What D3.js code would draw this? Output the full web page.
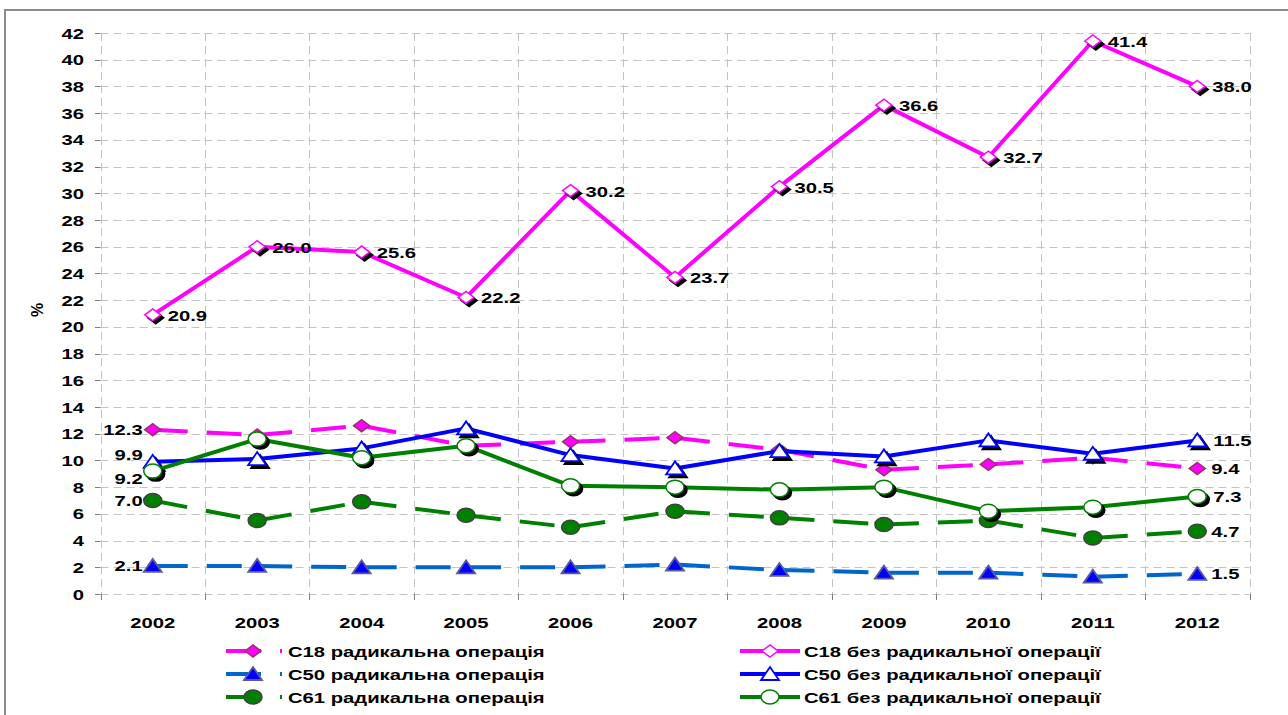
<!DOCTYPE html>
<html><head><meta charset="utf-8">
<script src="https://cdn.jsdelivr.net/npm/d3@7/dist/d3.min.js"></script>
<style>body{margin:0;background:#fff}svg{display:block}text{font-family:"Liberation Sans",Arial,sans-serif;font-weight:bold;fill:#000}</style>
</head><body>
<svg id="c" width="1288" height="715"></svg>
<script>
const years = ["2002","2003","2004","2005","2006","2007","2008","2009","2010","2011","2012"];
const yTicks = [0,2,4,6,8,10,12,14,16,18,20,22,24,26,28,30,32,34,36,38,40,42];
const c18Rad = [12.3, 11.9, 12.6, 11.1, 11.4, 11.7, 10.8, 9.3, 9.7, 10.2, 9.4];
const c18Bez = [20.9, 26.0, 25.6, 22.2, 30.2, 23.7, 30.5, 36.6, 32.7, 41.4, 38.0];
const c50Rad = [2.1, 2.1, 2.0, 2.0, 2.0, 2.2, 1.8, 1.6, 1.6, 1.3, 1.5];
const c50Bez = [9.9, 10.1, 10.9, 12.4, 10.4, 9.4, 10.7, 10.3, 11.5, 10.5, 11.5];
const c61Rad = [7.0, 5.5, 6.9, 5.9, 5.0, 6.2, 5.7, 5.2, 5.5, 4.2, 4.7];
const c61Bez = [9.2, 11.6, 10.2, 11.1, 8.1, 8.0, 7.8, 8.0, 6.2, 6.5, 7.3];
const names = ["С18 радикальна операція","С18 без радикальної операції","С50 радикальна операція","С50 без радикальної операції","С61 радикальна операція","С61 без радикальної операції"];

const SX = 1.35;
const svg = d3.select("#c");
svg.append("rect").attr("x",5).attr("y",10).attr("width",1400).attr("height",800)
  .attr("fill","none").attr("stroke","#8c8c8c").attr("stroke-width",2);

const x = d3.scaleBand().domain(years).range([100.5, 1249.5]);
const cx = d => x(d) + x.bandwidth()/2;
const y = d3.scaleLinear().domain([0,42]).range([594, 33]);

function txt(g, px, py, s, anchor, size){
  return g.append("text").attr("transform",`translate(${px},${py}) scale(${SX},1)`)
    .attr("text-anchor",anchor||"start").attr("font-size",size||15).text(s);
}

// grid
const grid = svg.append("g");
yTicks.forEach(t => {
  grid.append("line").attr("x1",100.5).attr("x2",1249.5).attr("y1",Math.round(y(t))+0.5).attr("y2",Math.round(y(t))+0.5)
    .attr("stroke","#c4c4c4").attr("stroke-dasharray","8,5").attr("stroke-width",1);
  grid.append("line").attr("x1",95).attr("x2",100.5).attr("y1",Math.round(y(t))+0.5).attr("y2",Math.round(y(t))+0.5)
    .attr("stroke","#808080");
});
const bounds = years.map(d => x(d)).concat([x.range()[1]]);
bounds.forEach((b,i) => {
  grid.append("line").attr("x1",Math.round(b)+0.5).attr("x2",Math.round(b)+0.5).attr("y1",33).attr("y2",594)
    .attr("stroke","#c4c4c4").attr("stroke-dasharray","8,5");
  grid.append("line").attr("x1",Math.round(b)+0.5).attr("x2",Math.round(b)+0.5).attr("y1",594).attr("y2",600)
    .attr("stroke","#808080");
});
// axis labels
yTicks.forEach(t => txt(svg, 84, y(t)+5.5, String(t), "end"));
years.forEach(d => txt(svg, cx(d), 628, d, "middle"));
svg.append("text").attr("transform","translate(43,310) rotate(-90)").attr("text-anchor","middle")
  .attr("font-size",16).text("%");

function marker(g, type, px, py, fill, stroke, shadow){
  const draw = (ox, oy, f, s) => {
    if(type==="diamond"){
      g.append("path").attr("d",`M${px+ox-8},${py+oy} L${px+ox},${py+oy-6} L${px+ox+8},${py+oy} L${px+ox},${py+oy+6} Z`)
        .attr("fill",f).attr("stroke",s).attr("stroke-width",1.5);
    } else if(type==="tri"){
      g.append("path").attr("d",`M${px+ox-9},${py+oy+6} L${px+ox},${py+oy-7} L${px+ox+9},${py+oy+6} Z`)
        .attr("fill",f).attr("stroke",s).attr("stroke-width",1.8);
    } else {
      g.append("ellipse").attr("cx",px+ox).attr("cy",py+oy).attr("rx",9).attr("ry",7)
        .attr("fill",f).attr("stroke",s).attr("stroke-width",1.5);
    }
  };
  if(shadow) draw(3,3,"#000","#000");
  draw(0,0,fill,stroke);
}

const series = [
  {vals:c18Rad, line:"#ff00ff", dash:"35,19", m:"diamond", mf:"#ff00ff", ms:"#993366", sh:false, first:{dx:-10,dy:0}, last:{dx:14,dy:0}},
  {vals:c18Bez, line:"#ff00ff", dash:null, m:"diamond", mf:"#fff", ms:"#ff00ff", sh:true, all:true},
  {vals:c50Rad, line:"#0066cc", dash:"35,19", m:"tri", mf:"#0000ff", ms:"#5a5aa0", sh:false, first:{dx:-10,dy:0}, last:{dx:14,dy:0}},
  {vals:c50Bez, line:"#0000ff", dash:null, m:"tri", mf:"#fff", ms:"#0000ff", sh:true, first:{dx:-10,dy:-7}, last:{dx:16,dy:0}},
  {vals:c61Rad, line:"#008000", dash:"35,19", m:"circle", mf:"#008000", ms:"#404040", sh:false, first:{dx:-10,dy:0}, last:{dx:14,dy:0}},
  {vals:c61Bez, line:"#008000", dash:null, m:"circle", mf:"#fff", ms:"#008000", sh:true, first:{dx:-10,dy:7}, last:{dx:16,dy:0}}
];

series.forEach(s => {
  const g = svg.append("g");
  for(let i=0;i<years.length-1;i++){
    const l = g.append("line").attr("x1",cx(years[i])).attr("y1",y(s.vals[i]))
      .attr("x2",cx(years[i+1])).attr("y2",y(s.vals[i+1]))
      .attr("stroke",s.line).attr("stroke-width",4);
    if(s.dash) l.attr("stroke-dasharray",s.dash);
  }
  years.forEach((d,i) => marker(g, s.m, cx(d), y(s.vals[i]), s.mf, s.ms, s.sh));
});
// data labels
series.forEach(s => {
  if(s.all){
    years.forEach((d,i) => txt(svg, cx(d)+15, y(s.vals[i])+6, s.vals[i].toFixed(1), "start"));
  } else {
    const n = years.length-1;
    txt(svg, cx(years[0])+s.first.dx, y(s.vals[0])+s.first.dy+5.5, s.vals[0].toFixed(1), "end");
    txt(svg, cx(years[n])+s.last.dx, y(s.vals[n])+s.last.dy+5.5, s.vals[n].toFixed(1), "start");
  }
});

// legend
const rowsY = [651, 674, 697];
series.forEach((s,i) => {
  const col = i % 2, row = Math.floor(i/2);
  const ly = rowsY[row];
  const g = svg.append("g");
  if(col===0){
    g.append("line").attr("x1",226).attr("x2",261).attr("y1",ly).attr("y2",ly).attr("stroke",s.line).attr("stroke-width",4);
    marker(g, s.m, 253, ly, s.mf, s.ms, false);
    g.append("rect").attr("x",280).attr("y",ly-2).attr("width",2).attr("height",4).attr("fill",s.line);
    txt(svg, 288, ly+5.5, names[i], "start");
  } else {
    g.append("line").attr("x1",740).attr("x2",800).attr("y1",ly).attr("y2",ly).attr("stroke",s.line).attr("stroke-width",4);
    marker(g, s.m, 770, ly, s.mf, s.ms, false);
    txt(svg, 804, ly+5.5, names[i], "start");
  }
});
</script>
</body></html>
